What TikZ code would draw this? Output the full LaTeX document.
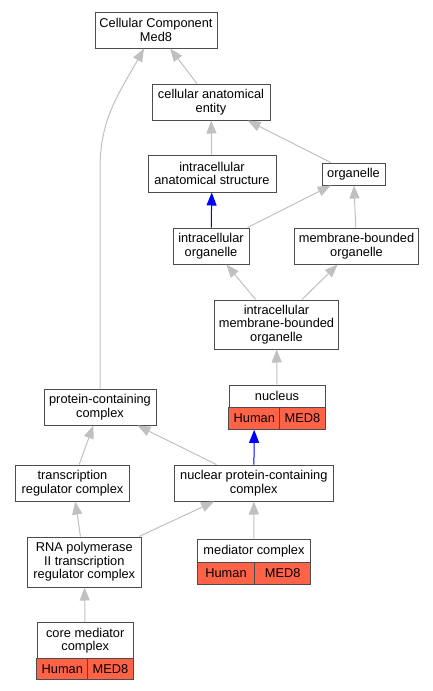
\documentclass[tikz,border=0pt]{standalone}
\usepackage{fontspec}
\setmainfont{Liberation Sans}
\usetikzlibrary{positioning,arrows.meta}
\definecolor{edgegray}{HTML}{C0C0C0}
\definecolor{tomato}{HTML}{FF6347}
\tikzset{
  goterm/.style={draw=black!70, line width=1pt, fill=white, inner sep=0pt,
    align=center, font=\fontsize{12.8}{13.4}\selectfont},
  orgcell/.style={goterm, fill=tomato},
  isa/.style={draw=edgegray, line width=1pt, -{Triangle[length=13pt,width=10pt]}},
  occurs/.style={isa, draw=blue}
}

\begin{document}
\begin{tikzpicture}[x=1pt,y=-1pt]
            \useasboundingbox (0,0) rectangle (433,691);

            \node[goterm, minimum width=122pt, minimum height=36pt] (ccm) at (156,30) {Cellular Component\\Med8};
            \node[goterm, minimum width=118pt, minimum height=36pt] (cae) at (211,102) {cellular anatomical\\entity};
            \node[goterm, minimum width=128pt, minimum height=37pt] (ias) at (212,173.5) {intracellular\\anatomical structure};
            \node[goterm, minimum width=63pt, minimum height=22pt] (org) at (353.5,174) {organelle};
            \node[goterm, minimum width=76pt, minimum height=36pt] (io) at (211,246) {intracellular\\organelle};
            \node[goterm, minimum width=124pt, minimum height=36pt] (mbo) at (356.5,246) {membrane-bounded\\organelle};
            \node[goterm, minimum width=124pt, minimum height=49pt] (imbo) at (276.5,324.5) {intracellular\\membrane-bounded\\organelle};

            \node[goterm, minimum width=96pt, minimum height=22pt] (nuc) at (277,396) {nucleus};
            \node[orgcell, minimum width=50.7pt, minimum height=22pt] (nucH) at (254.3,418.3) {Human};
            \node[orgcell, minimum width=45.6pt, minimum height=22pt] (nucM) at (302.5,418.3) {MED8};

            \node[goterm, minimum width=112pt, minimum height=36pt] (pcc) at (100,407) {protein-containing\\complex};
            \node[goterm, minimum width=114pt, minimum height=36pt] (trc) at (72.5,483) {transcription\\regulator complex};
            \node[goterm, minimum width=159pt, minimum height=36pt] (npcc) at (253.8,483) {nuclear protein-containing\\complex};
            \node[goterm, minimum width=114pt, minimum height=50pt] (rnap) at (84.3,562) {RNA polymerase\\II transcription\\regulator complex};

            \node[goterm, minimum width=113pt, minimum height=22.6pt] (med) at (254,551) {mediator complex};
            \node[orgcell, minimum width=57.4pt, minimum height=21.7pt] (medH) at (226,573.2) {Human};
            \node[orgcell, minimum width=56pt, minimum height=21.7pt] (medM) at (282.7,573.2) {MED8};

            \node[goterm, minimum width=96.3pt, minimum height=36.4pt] (core) at (85.2,640.5) {core mediator\\complex};
            \node[orgcell, minimum width=50.7pt, minimum height=21.3pt] (coreH) at (62.3,669.3) {Human};
            \node[orgcell, minimum width=45.6pt, minimum height=21.3pt] (coreM) at (110.5,669.3) {MED8};

            \draw[isa] (cae) -- (ccm);
            \draw[isa] (pcc.north) -- ++(0,-220) .. controls +(0,-50) and +(-25,45) .. ([xshift=-12pt]ccm.south);
            \draw[isa] (ias) -- (cae);
            \draw[isa] (org) -- (cae);
            \draw[occurs] (io) -- (ias);
            \draw[isa] (io) -- (org);
            \draw[isa] (mbo) -- (org);
            \draw[isa] (imbo) -- (io);
            \draw[isa] (imbo) -- (mbo);
            \draw[isa] (nuc) -- (imbo);
            \draw[isa] (npcc) -- (pcc);
            \draw[isa] (trc) -- (pcc);
            \draw[occurs] (npcc) -- (nucH);
            \draw[isa] (rnap) -- (trc);
            \draw[isa] (rnap) -- (npcc);
            \draw[isa] (med) -- (npcc);
            \draw[isa] (core) -- (rnap);
        \end{tikzpicture}
\end{document}
